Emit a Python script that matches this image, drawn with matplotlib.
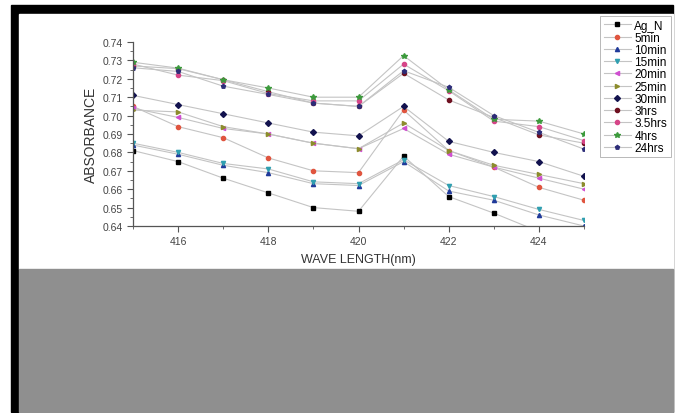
import numpy as np
import matplotlib
matplotlib.use("Agg")
import matplotlib.pyplot as plt
from matplotlib.patches import Rectangle
from matplotlib.ticker import MultipleLocator, FormatStrFormatter

plt.rcParams['font.family'] = ['Liberation Sans', 'DejaVu Sans']

# _____________________________________
# Data

wavelength = [415, 416, 417, 418, 419, 420, 421, 422, 423, 424, 425]

labels = ["Ag_N", "5min", "10min", "15min", "20min", "25min",
          "30min", "3hrs", "3.5hrs", "4hrs", "24hrs"]

ag_n    = [0.681, 0.675, 0.666, 0.658, 0.650, 0.648, 0.678, 0.656, 0.647, 0.637, 0.630]
min5    = [0.705, 0.694, 0.688, 0.677, 0.670, 0.669, 0.703, 0.681, 0.672, 0.661, 0.654]
min10   = [0.684, 0.679, 0.673, 0.669, 0.663, 0.662, 0.675, 0.659, 0.654, 0.646, 0.640]
min15   = [0.685, 0.680, 0.674, 0.671, 0.664, 0.663, 0.676, 0.662, 0.656, 0.649, 0.643]
min20   = [0.704, 0.699, 0.693, 0.690, 0.685, 0.682, 0.693, 0.679, 0.672, 0.666, 0.660]
min25   = [0.703, 0.702, 0.694, 0.690, 0.685, 0.682, 0.696, 0.681, 0.673, 0.668, 0.663]
min30   = [0.711, 0.706, 0.701, 0.696, 0.691, 0.689, 0.705, 0.686, 0.680, 0.675, 0.667]
hrs3    = [0.727, 0.7255, 0.7195, 0.713, 0.7068, 0.705, 0.723, 0.7085, 0.699, 0.6895, 0.685]
hrs3_5  = [0.728, 0.722, 0.719, 0.712, 0.708, 0.708, 0.728, 0.7135, 0.697, 0.694, 0.6864]
hrs4    = [0.729, 0.7258, 0.7195, 0.715, 0.710, 0.710, 0.7326, 0.714, 0.698, 0.697, 0.690]
hrs24   = [0.726, 0.724, 0.716, 0.7115, 0.7068, 0.705, 0.7244, 0.7154, 0.700, 0.6909, 0.6818]

series = [ag_n, min5, min10, min15, min20, min25, min30, hrs3, hrs3_5, hrs4, hrs24]

# _____________________________________
# Styles

colors  = ["#000000", "#e0553f", "#203a9a", "#2f9fb0", "#cf4fd0", "#8c8c2c",
           "#12124e", "#6e1020", "#d64588", "#3c9a3c", "#2c2c78"]
markers = ["s", "o", "^", "v", "<", ">", "D", "o", "o", "*", "p"]
line_color = "#c4c4c4"

# _____________________________________
# Figure

fig = plt.figure(figsize=(6.77, 4.14), dpi=100)
fig.patch.set_facecolor("white")

# black frame, white chart panel and gray lower band (behind the axes)
fig.patches.append(Rectangle((11/677, 1/414), 662/677, 407/414,
                             transform=fig.transFigure, color="black", zorder=-3))
fig.patches.append(Rectangle((19/677, 144/414), 654/677, 255/414,
                             transform=fig.transFigure, color="white", zorder=-2))
fig.patches.append(Rectangle((19/677, 1/414), 654/677, 143/414,
                             transform=fig.transFigure, color="#8f8f8f", zorder=-2))

ax = fig.add_axes([133/677, 1 - 227/414, 451/677, 184/414])
ax.set_facecolor("none")
ax.set_zorder(1)

for vals, lab, c, m in zip(series, labels, colors, markers):
    ms = 4 if m == "*" else 3
    ax.plot(wavelength, vals, color=line_color, lw=0.8, marker=m,
            markersize=ms, markerfacecolor=c, markeredgecolor=c, label=lab)

ax.set_xlim(415, 425)
ax.set_ylim(0.64, 0.74)
ax.xaxis.set_major_locator(MultipleLocator(2))
ax.xaxis.set_minor_locator(MultipleLocator(1))
ax.yaxis.set_major_locator(MultipleLocator(0.01))
ax.yaxis.set_minor_locator(MultipleLocator(0.005))
ax.yaxis.set_major_formatter(FormatStrFormatter("%.2f"))

for s in ["top", "right"]:
    ax.spines[s].set_visible(False)
for s in ["left", "bottom"]:
    ax.spines[s].set_color("#555555")
    ax.spines[s].set_linewidth(0.9)

ax.tick_params(which="both", direction="out", colors="#555555", labelsize=7.5,
               labelcolor="#444444")
ax.tick_params(which="major", length=4)
ax.tick_params(which="minor", length=2.5)

ax.set_xlabel("WAVE LENGTH(nm)", fontsize=9, color="#333333", labelpad=5)
ax.set_ylabel("ABSORBANCE", fontsize=10, color="#333333", labelpad=3)

leg = fig.legend(loc="upper left", bbox_to_anchor=(600/677, 1 - 17/414),
                 fontsize=8.5, labelspacing=0.02, handlelength=2.3,
                 handletextpad=0.3, borderpad=0.3, borderaxespad=0,
                 frameon=True, fancybox=False, edgecolor="#999999")
leg.get_frame().set_linewidth(0.6)
leg.set_zorder(2)

fig.savefig("out.png", dpi=100)
